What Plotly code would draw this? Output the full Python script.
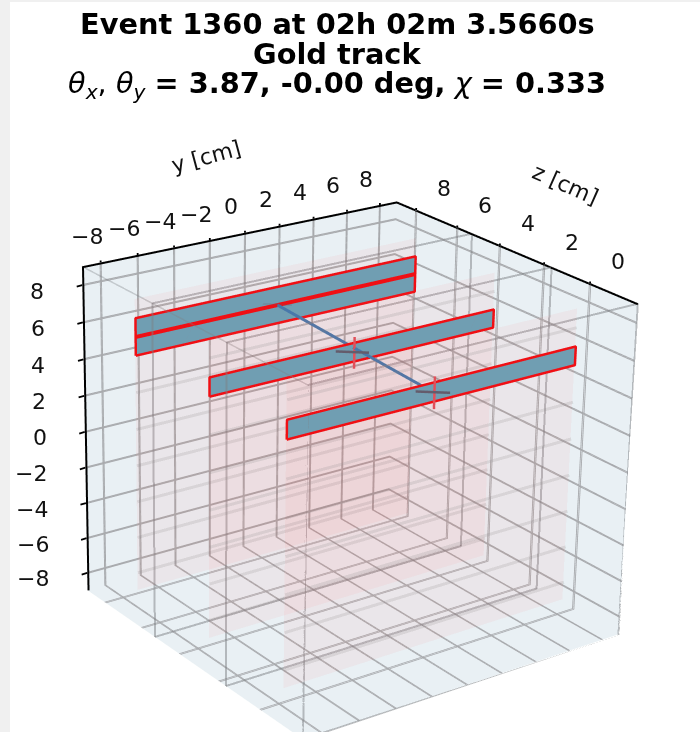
import plotly.graph_objects as go

TITLE_LINES = ["<b>Event 1360 at 02h 02m 3.5660s</b>", "<b>Gold track</b>",
               "<i>θ<sub>x</sub></i>, <i>θ<sub>y</sub></i> <b>= 3.87, -0.00 deg,</b> <i>χ</i> <b>= 0.333</b>"]
Y_RANGE = [-9, 9]
Z_RANGE = [-2, 9]
X_RANGE = [-9, 9]
Y_TICKS = [-8, -6, -4, -2, 0, 2, 4, 6, 8]
Z_TICKS = [0, 2, 4, 6, 8]
X_TICKS = [-8, -6, -4, -2, 0, 2, 4, 6, 8]
FRAME_Z = [-2, 1.67, 5.3]
LAYER_Z = [7.2, 3.45, -0.2]
PLANE_Y = [-8, 8]
PLANE_X = [-8, 8]
BAND_X = [-7, -5, -3, -1, 1, 3, 7]
STRIP_LAYER = [0, 0, 1, 2]
STRIP_LOW = [6, 5, 5, 5]
STRIP_HIGH = [7, 6, 6, 6]
SHARED_EDGE_X = 6
HIT_Y = [-0.18, -0.17]
HIT_Z = [3.45, -0.2]
HIT_X = [5.5, 5.5]
FIRST_HIT = [-0.15, 7.2, 6.0]
TRACK_Y = [-0.15, -0.17]
TRACK_Z = [7.2, -0.2]
TRACK_X = [6.0, 5.5]

PANE = "rgb(233,240,244)"
GRID = "rgb(168,170,173)"
FRAME = "rgb(125,128,132)"
PINK = "rgb(255,80,80)"
FONT = "DejaVu Sans"
INSET = 0.03

fig = go.Figure()

def lines(ys, zs, xs, color, width, opacity=1.0):
    fig.add_trace(go.Scatter3d(x=ys, y=zs, z=xs, mode="lines", hoverinfo="skip", showlegend=False,
                               opacity=opacity, line=dict(color=color, width=width)))

def quad(y0, y1, z, x0, x1, color):
    fig.add_trace(go.Mesh3d(x=[y0, y1, y1, y0], y=[z] * 4, z=[x0, x0, x1, x1], i=[0, 0], j=[1, 2], k=[2, 3],
                            color=color, flatshading=True, hoverinfo="skip", showscale=False,
                            lighting=dict(ambient=1, diffuse=0, specular=0, roughness=1, fresnel=0)))

def plane(y0, y1, z, x0, x1, color, opacity):
    fig.add_trace(go.Surface(x=[[y0, y1], [y0, y1]], y=[[z, z], [z, z]], z=[[x0, x0], [x1, x1]],
                             surfacecolor=[[0, 0], [0, 0]], colorscale=[[0, color], [1, color]], cmin=0, cmax=1,
                             opacity=opacity, showscale=False, hoverinfo="skip",
                             lighting=dict(ambient=1, diffuse=0, specular=0, roughness=1, fresnel=0)))

ymin, ymax = Y_RANGE
zmin, zmax = Z_RANGE
xmin, xmax = X_RANGE

# cross-section frames and the near box edges
for fz in FRAME_Z:
    lines([ymin, ymax, ymax, ymin, ymin], [fz] * 5, [xmin, xmin, xmax, xmax, xmin], FRAME, 4, 0.5)
lines([ymin, ymin], [zmin, zmax], [xmax, xmax], FRAME, 3, 0.35)
lines([ymax, ymax], [zmin, zmax], [xmax, xmax], FRAME, 3, 0.35)

# detector planes
for lz in LAYER_Z:
    plane(PLANE_Y[0], PLANE_Y[1], lz, PLANE_X[0], PLANE_X[1], PINK, 0.06)
    for bx in BAND_X:
        lines(PLANE_Y, [lz - 0.03, lz - 0.03], [bx, bx], "rgb(130,130,130)", 6, 0.18)

# fired strips
for lay, lo, hi in zip(STRIP_LAYER, STRIP_LOW, STRIP_HIGH):
    z = LAYER_Z[lay]
    quad(PLANE_Y[0], PLANE_Y[1], z, lo, hi, "rgb(112,158,178)")
    lines([PLANE_Y[0], PLANE_Y[1], PLANE_Y[1], PLANE_Y[0], PLANE_Y[0]], [z - 0.03] * 5, [lo, lo, hi, hi, lo], "rgb(240,15,20)", 5)
lines(PLANE_Y, [LAYER_Z[0] - 0.03] * 2, [SHARED_EDGE_X] * 2, "rgb(240,15,20)", 8)

# track and hit crosses
lines(TRACK_Y, TRACK_Z, TRACK_X, "rgb(72,120,170)", 6)
for hy, hz, hx in zip(HIT_Y, HIT_Z, HIT_X):
    lines([hy - 1.08, hy + 0.08], [hz - 0.105, hz - 0.695], [hx + 0.34, hx + 0.34], "rgb(100,92,108)", 5)
    lines([hy, hy], [hz - 0.08, hz - 0.08], [hx - 0.85, hx + 0.85], "rgb(225,80,90)", 5)
lines([FIRST_HIT[0] - 1.08, FIRST_HIT[0] + 0.08], [FIRST_HIT[1] - 0.105, FIRST_HIT[1] - 0.695], [FIRST_HIT[2] + 0.34] * 2, "rgb(100,92,108)", 4, 0.2)

# axis edges
lines([ymin, ymax, ymax], [zmax - INSET, zmax - INSET, zmin], [xmax - INSET] * 3, "black", 4)
lines([ymin + INSET, ymin + INSET], [zmax - INSET, zmax - INSET], [xmin, xmax], "black", 4)

annots = []
def tick(x, y, z, ax, ay):
    annots.append(dict(x=x, y=y, z=z, text=" ", showarrow=True, arrowhead=0, arrowwidth=1.8, arrowcolor="black",
                       ax=ax, ay=ay, standoff=0, startstandoff=0, font=dict(size=1)))

def label(x, y, z, text, xs, ys, **kw):
    annots.append(dict(x=x, y=y, z=z, text=text, showarrow=False, xshift=xs, yshift=ys,
                       font=dict(family=FONT, size=22, color="#111111"), **kw))

def fmt(v):
    return str(v).replace("-", "\u2212")

for t in Y_TICKS:
    tick(t, zmax, xmax, 0, -4)
    label(t, zmax, xmax, fmt(t), -14, 26)
for t in Z_TICKS:
    tick(ymax, t, xmax, 0, -4)
    label(ymax, t, xmax, fmt(t), 28, 22)
for t in X_TICKS:
    tick(ymin, zmax, t, -7, 2)
    label(ymin, zmax, t, fmt(t), -36, -6, xanchor="right")
label(0, zmax, xmax, "y [cm]", -38, 76, textangle=-15)
label(ymax, 3.5, xmax, "z [cm]", 55, 66, textangle=24)

def axis(rng, ticks):
    # each native gridline is one pixel wide, so every tick gets a close pair to reach the reference weight
    vals = [v for t in ticks for v in (t - 0.03, t + 0.03)]
    return dict(range=rng, tickmode="array", tickvals=vals, showticklabels=False, ticks="", title=dict(text=""),
                showline=False, zeroline=False, showspikes=False, showgrid=True, gridcolor=GRID,
                showbackground=True, backgroundcolor=PANE)

title_ann = []
for text, py in zip(TITLE_LINES, [24, 54, 85]):
    title_ann.append(dict(xref="paper", yref="paper", x=337 / 700, y=1 - py / 732, text=text, showarrow=False,
                          xanchor="center", yanchor="middle", font=dict(family=FONT, size=28.8, color="black")))

fig.update_layout(
    width=700, height=732, margin=dict(l=0, r=0, t=0, b=0), paper_bgcolor="white", showlegend=False,
    annotations=title_ann,
    shapes=[dict(type="rect", xref="paper", yref="paper", x0=0, x1=10 / 700, y0=0, y1=1, fillcolor="#f0f0f0", line_width=0, layer="below"),
            dict(type="rect", xref="paper", yref="paper", x0=0, x1=1, y0=1 - 2 / 732, y1=1, fillcolor="#f0f0f0", line_width=0, layer="below")],
    scene=dict(
        domain=dict(x=[0, 1], y=[0, 1]),
        xaxis=axis(Y_RANGE, Y_TICKS), yaxis=axis(Z_RANGE, Z_TICKS), zaxis=axis(X_RANGE, X_TICKS),
        aspectmode="manual", aspectratio=dict(x=1.457, y=1.445, z=1.324),
        camera=dict(eye=dict(x=-5.722, y=-7.689, z=4.012), center=dict(x=0.141, y=0.218, z=0.245),
                    up=dict(x=0.223, y=0.336, z=1), projection=dict(type="perspective")),
        annotations=annots,
    ),
)

# Rebuild the scene once with a 15 degree field of view (the reference camera is long-lens).
POST = """
document.body.style.margin='0';document.body.style.overflow='hidden';
var gd=document.getElementById('{plot_id}');
var d=gd.data,l=gd.layout;
Object.defineProperty(Object.prototype,'fovy',{value:15*Math.PI/180,writable:true,configurable:true,enumerable:false});
Plotly.purge(gd);
Plotly.newPlot(gd,d,l,{displayModeBar:false});
"""
fig.write_html("out.html", post_script=POST, config=dict(displayModeBar=False))
